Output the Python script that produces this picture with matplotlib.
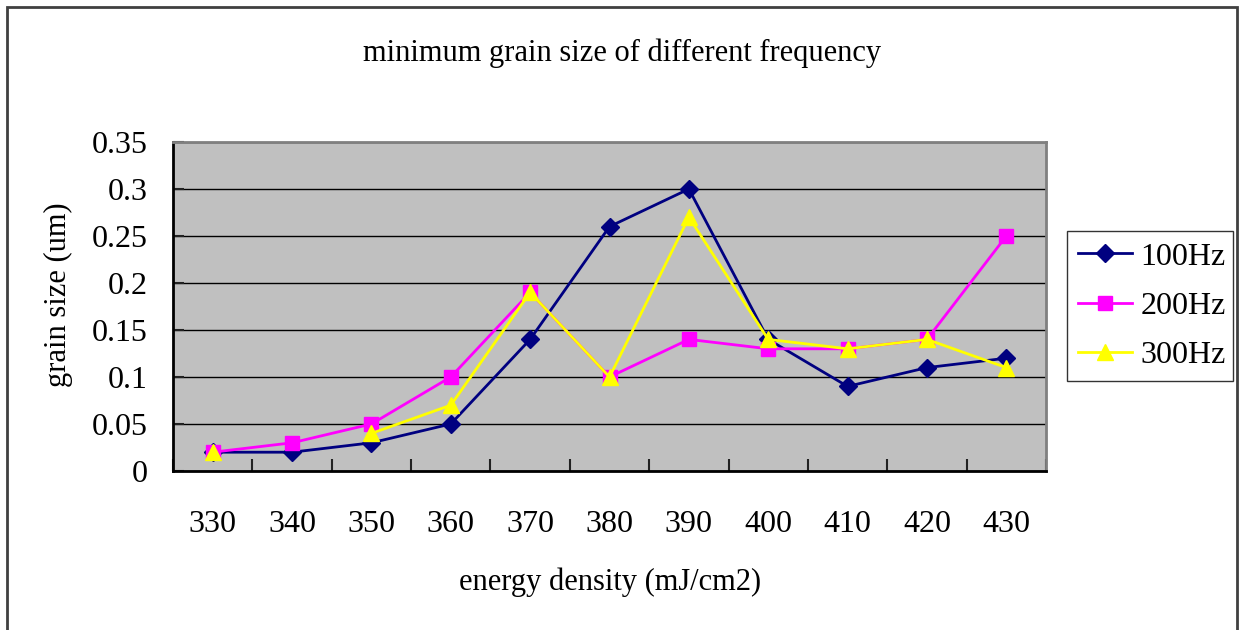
import numpy as np
import matplotlib
matplotlib.use('Agg')
import matplotlib.pyplot as plt
from matplotlib.patches import Rectangle

plt.rcParams['font.family'] = ['Liberation Serif', 'DejaVu Serif']

# 資料
energy = ['330', '340', '350', '360', '370', '380', '390', '400', '410', '420', '430']
hz100 = [0.02, 0.02, 0.03, 0.05, 0.14, 0.26, 0.30, 0.14, 0.09, 0.11, 0.12]
hz200 = [0.02, 0.03, 0.05, 0.10, 0.19, 0.10, 0.14, 0.13, 0.13, 0.14, 0.25]
hz300 = [0.02, np.nan, 0.04, 0.07, 0.19, 0.10, 0.27, 0.14, 0.13, 0.14, 0.11]
yticks = [0, 0.05, 0.1, 0.15, 0.2, 0.25, 0.3, 0.35]
ytick_labels = ['0', '0.05', '0.1', '0.15', '0.2', '0.25', '0.3', '0.35']

W, H = 1242, 630
fig = plt.figure(figsize=(W / 100, H / 100), dpi=100)
fig.patch.set_facecolor('white')

# 外框
fig.patches.append(Rectangle((7 / W, -0.1), 1230 / W, (H - 7) / H + 0.1,
                             transform=fig.transFigure, fill=False,
                             edgecolor='#404040', linewidth=2))

ax = fig.add_axes([173 / W, 1 - 471 / H, (1046 - 173) / W, (471 - 142) / H])
ax.set_facecolor('#C0C0C0')

x = np.arange(len(energy))
ax.plot(x, hz100, color='#000080', marker='D', markersize=9, linewidth=2, label='100Hz')
ax.plot(x, hz200, color='#FF00FF', marker='s', markersize=10, linewidth=2, label='200Hz')
ax.plot(x, hz300, color='#FFFF00', marker='^', markersize=11, linewidth=2, label='300Hz')

ax.set_xlim(-0.5, len(energy) - 0.5)
ax.set_ylim(0, 0.35)
ax.set_yticks(yticks)
ax.set_yticklabels(ytick_labels)
ax.yaxis.grid(True, color='black', linewidth=1)
ax.set_axisbelow(True)

ax.set_xticks(np.arange(-0.5, len(energy), 1), minor=False)
ax.set_xticklabels([])
ax.set_xticks(x, minor=True)
ax.set_xticklabels(energy, minor=True)
ax.tick_params(axis='x', which='major', direction='in', length=9, width=1.5, color='#222222')
ax.tick_params(axis='x', which='minor', length=0, pad=28, labelsize=23)
ax.tick_params(axis='y', direction='in', length=8, width=1.5, color='#222222', labelsize=23, pad=18)

for s in ['top', 'right']:
    ax.spines[s].set_color('#808080')
    ax.spines[s].set_linewidth(2)
for s in ['left', 'bottom']:
    ax.spines[s].set_color('black')
    ax.spines[s].set_linewidth(2)

fig.text(622 / W, 1 - 53 / H, 'minimum grain size of different frequency',
         ha='center', va='center', fontsize=22)
fig.text(610 / W, 1 - 582 / H, 'energy density (mJ/cm2)',
         ha='center', va='center', fontsize=22)
fig.text(58 / W, 1 - 295 / H, 'grain size (um)', rotation=90,
         ha='center', va='center', fontsize=22)

leg = ax.legend(loc='center', bbox_to_anchor=(1067 / W, 1 - 382 / H, 166 / W, 152 / H),
                bbox_transform=fig.transFigure, mode='expand', fontsize=23,
                frameon=True, fancybox=False, handlelength=1.7, handletextpad=0.25,
                borderpad=0.35, labelspacing=0.62, borderaxespad=0)
leg.get_frame().set_edgecolor('black')
leg.get_frame().set_linewidth(1)

fig.savefig('out.png', dpi=100, facecolor='white')
